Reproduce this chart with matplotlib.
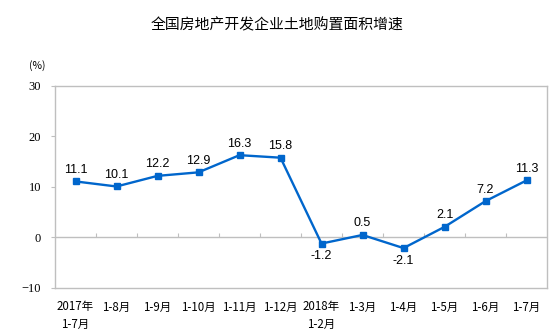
import matplotlib.pyplot as plt
import numpy as np

plt.rcParams['font.family'] = ['Noto Sans CJK SC', 'DejaVu Sans']

months = ['2017年\n1-7月', '1-8月', '1-9月', '1-10月', '1-11月', '1-12月',
          '2018年\n1-2月', '1-3月', '1-4月', '1-5月', '1-6月', '1-7月']
growth = [11.1, 10.1, 12.2, 12.9, 16.3, 15.8, -1.2, 0.5, -2.1, 2.1, 7.2, 11.3]

grey = '#BFBFBF'
blue = '#0066CC'

fig = plt.figure(figsize=(5.54, 3.36), dpi=100)
ax = fig.add_axes([0.0993, 0.1429, 0.8881, 0.6012])

x = np.arange(len(months))
ax.plot(x, growth, color=blue, lw=1.7, marker='s', ms=5, zorder=3)

for xi, v in zip(x, growth):
    if v < 0:
        ax.annotate(f'{v:.1f}', (xi, v), xytext=(0, -5), textcoords='offset points',
                    ha='center', va='top', fontsize=9, family='Liberation Sans')
    else:
        ax.annotate(f'{v:.1f}', (xi, v), xytext=(0, 4), textcoords='offset points',
                    ha='center', va='bottom', fontsize=9, family='Liberation Sans')

ax.set_xlim(-0.5, len(months) - 0.5)
ax.set_ylim(-10, 30)
ax.set_yticks([-10, 0, 10, 20, 30])
ax.set_xticks(x)
ax.set_xticklabels(months, fontsize=8.3, linespacing=1.45)
ax.tick_params(axis='x', length=0, pad=9)
ax.tick_params(axis='y', length=3, color=grey, pad=7)
for lab in ax.get_yticklabels():
    lab.set_family('Liberation Serif')
    lab.set_fontsize(9)

for s in ax.spines.values():
    s.set_color(grey)
    s.set_linewidth(1)

# zero line with category separators
ax.axhline(0, color=grey, lw=1, zorder=1)
zero = ax.secondary_xaxis(0.25)
zero.set_xticks(x[:-1] + 0.5)
zero.tick_params(direction='in', length=3, color=grey, labelbottom=False)
zero.spines['bottom'].set_visible(False)

fig.text(0.5, 0.925, '全国房地产开发企业土地购置面积增速', ha='center', va='center', fontsize=10.7)
fig.text(0.067, 0.804, '(%)', ha='center', va='center', fontsize=7.5)

fig.savefig('out.png', dpi=100)
